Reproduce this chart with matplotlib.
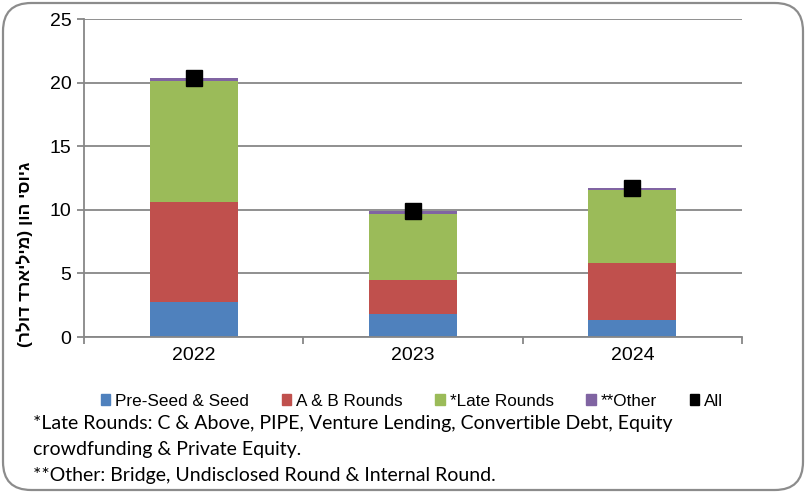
import numpy as np
import matplotlib
matplotlib.use("Agg")
import matplotlib.pyplot as plt
from matplotlib.patches import Patch, FancyBboxPatch

# נתונים - גיוסי הון לפי סוג סבב (מיליארד דולר)
years = ["2022", "2023", "2024"]
pre_seed = [2.76, 1.84, 1.37]
ab_rounds = [7.87, 2.62, 4.46]
late_rounds = [9.50, 5.20, 5.77]
other = [0.29, 0.26, 0.16]
all_total = [20.42, 9.92, 11.76]

series_names = ["Pre-Seed & Seed", "A & B Rounds", "*Late Rounds", "**Other"]
colors = ["#4F81BD", "#C0504D", "#9BBB59", "#8064A2"]

# תווית ציר y: "גיוסי הון (מיליארד דולר)" - הפיכה ידנית לתצוגה מימין לשמאל
ylabel_visual = "(" + "רלוד דראילימ" + ") " + "ןוה" + " " + "יסויג"

plt.rcParams["font.family"] = ["Liberation Sans", "DejaVu Sans"]

fig = plt.figure(figsize=(8.06, 4.93), dpi=100)
ax = fig.add_axes([84 / 806, 1 - 337 / 493, (742 - 84) / 806, (337 - 19.3) / 493])

x = np.arange(len(years))
bottom = np.zeros(len(years))
for vals, name, c in zip([pre_seed, ab_rounds, late_rounds, other], series_names, colors):
    ax.bar(x, vals, width=0.4, bottom=bottom, color=c, label=name, zorder=2)
    bottom += np.array(vals)
ax.plot(x, all_total, ls="none", marker="s", ms=11, color="black", zorder=3)

ax.set_xlim(-0.5, 2.5)
ax.set_ylim(0, 25)
ax.set_yticks(range(0, 26, 5))
ax.set_xticks(x)
ax.set_xticklabels(years)
ax.set_xticks([-0.5, 0.5, 1.5, 2.5], minor=True)
grid_c = "#878787"
ax.yaxis.grid(True, color=grid_c, lw=1.3, zorder=0)
ax.set_axisbelow(True)
for s in ["top", "right"]:
    ax.spines[s].set_visible(False)
for s in ["left", "bottom"]:
    ax.spines[s].set_color(grid_c)
    ax.spines[s].set_linewidth(1.3)
ax.tick_params(axis="y", length=5, width=1.3, color=grid_c, labelsize=14, pad=4)
ax.tick_params(axis="x", which="major", length=0, labelsize=14, pad=7)
ax.tick_params(axis="x", which="minor", length=5, width=1.3, color=grid_c)

fig.text(24.5 / 806, 1 - 254 / 493, ylabel_visual, rotation=90, fontsize=12.5,
         fontweight="bold", ha="center", va="center")

handles = [Patch(color=c, label=n) for c, n in zip(colors, series_names)]
handles.append(Patch(color="black", label="All"))
fig.legend(handles=handles, loc="center", bbox_to_anchor=(412 / 806, 1 - 401 / 493),
           ncol=5, frameon=False, fontsize=12.3, handlelength=0.55, handleheight=0.55,
           handletextpad=0.3, columnspacing=1.9)

notes = ["*Late Rounds: C & Above, PIPE, Venture Lending, Convertible Debt, Equity",
         "crowdfunding & Private Equity.",
         "**Other: Bridge, Undisclosed Round & Internal Round."]
for i, line in enumerate(notes):
    fig.text(33 / 806, 1 - (424 + 25.5 * i) / 493, line, fontsize=14, family="Lato",
             va="center", ha="left")

frame = FancyBboxPatch((3 / 806, 3 / 493), 800 / 806, 487 / 493,
                       boxstyle="round,pad=0,rounding_size=0.035",
                       transform=fig.transFigure, fill=False, ec="#8c8c8c", lw=1.6,
                       mutation_aspect=806 / 493)
fig.patches.append(frame)

fig.savefig("out.png", dpi=100)
